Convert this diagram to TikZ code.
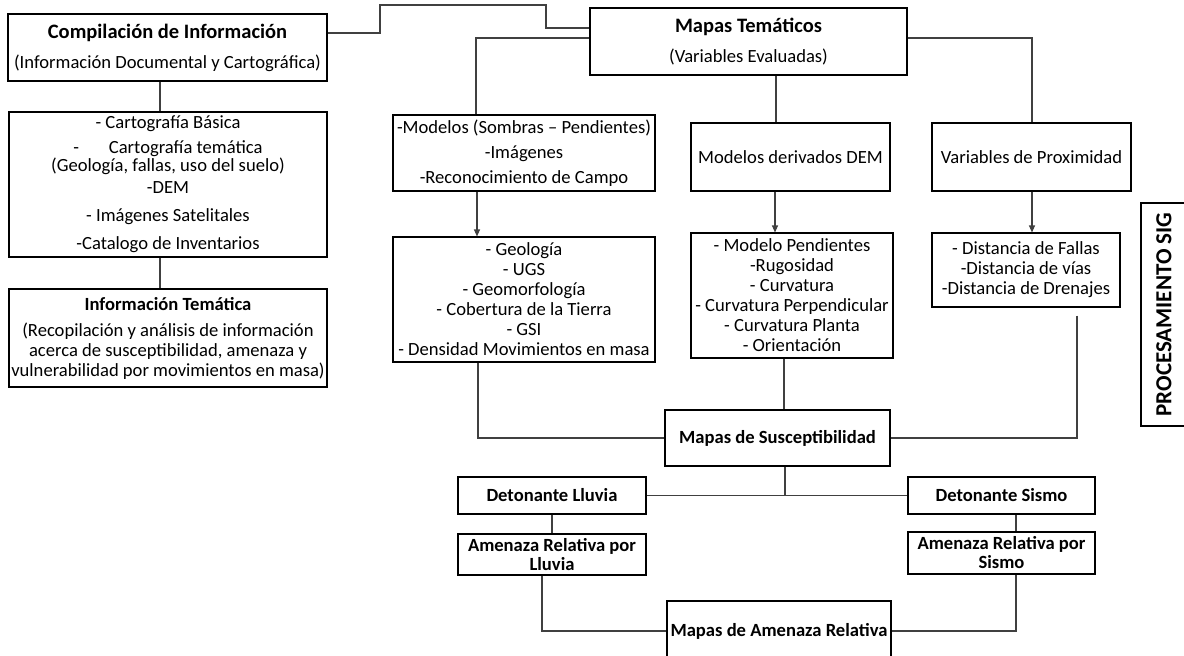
\documentclass[tikz,border=0pt]{standalone}
\usepackage{fontspec}
\setmainfont{Carlito}
\usetikzlibrary{arrows.meta}
\newcommand{\fs}{\fontsize{18.6}{20}\selectfont\lineskiplimit=-20pt\relax}
\newcommand{\fsb}{\fontsize{18.6}{19}\selectfont\lineskiplimit=-20pt\relax\bfseries}
\newcommand{\fst}{\fontsize{20.5}{20}\selectfont\lineskiplimit=-20pt\relax\bfseries}
\tikzset{
  box/.style={draw=black, line width=1.1pt, align=center, inner sep=0pt, font=\fs},
  bbox/.style={box, font=\fsb},
  conn/.style={draw=black!75, line width=1.1pt},
  arr/.style={conn, -{Triangle[length=7pt,width=6pt]}},
}
\begin{document}
\begin{tikzpicture}[x=1pt,y={(0pt,-1pt)}]
\useasboundingbox (0,0) rectangle (1184,656);
% left column
\node[box, minimum width=319pt, minimum height=67pt] (comp) at (167.5,47.5)
  {{\fst Compilación de Información}\\[10pt](Información Documental y Cartográfica)};
\node[box, minimum width=318pt, minimum height=145pt] (list1) at (168,184.5)
  {- Cartografía Básica\\[5pt]-\hspace{1.6em}Cartografía temática\\[-2pt](Geología, fallas, uso del suelo)\\[2pt]-DEM\\[8pt]- Imágenes Satelitales\\[8pt]-Catalogo de Inventarios};
\node[box, minimum width=318pt, minimum height=98pt] (tem) at (168,338)
  {{\fsb Información Temática}\\[6pt](Recopilación y análisis de información\\acerca de susceptibilidad, amenaza y\\vulnerabilidad por movimientos en masa)};
% top
\node[box, minimum width=317pt, minimum height=67pt] (mt) at (748.5,41.5)
  {{\fst Mapas Temáticos}\\[10pt](Variables Evaluadas)};
\node[box, minimum width=262pt, minimum height=76pt] (mod) at (524,153)
  {-Modelos (Sombras -- Pendientes)\\[5pt]-Imágenes\\[5pt]-Reconocimiento de Campo};
\node[box, minimum width=199pt, minimum height=68pt] (dem) at (790.5,157)
  {Modelos derivados DEM};
\node[box, minimum width=199pt, minimum height=68pt] (prox) at (1031.5,157)
  {Variables de Proximidad};
\node[box, minimum width=262pt, minimum height=125pt] (geo) at (524,299.5)
  {- Geología\\- UGS\\- Geomorfología\\- Cobertura de la Tierra\\- GSI\\- Densidad Movimientos en masa};
\node[box, minimum width=202pt, minimum height=125pt] (deml) at (792,295.5)
  {- Modelo Pendientes\\-Rugosidad\\- Curvatura\\- Curvatura Perpendicular\\- Curvatura Planta\\- Orientación};
\node[box, minimum width=188pt, minimum height=74pt] (dist) at (1026,270)
  {- Distancia de Fallas\\-Distancia de vías\\-Distancia de Drenajes};
\node[bbox, minimum width=225pt, minimum height=56pt] (sus) at (777.5,438)
  {Mapas de Susceptibilidad};
\node[bbox, minimum width=188pt, minimum height=37pt] (detl) at (552,495.5)
  {Detonante Lluvia};
\node[bbox, minimum width=188pt, minimum height=41pt] (aml) at (552,554.5)
  {Amenaza Relativa por\\Lluvia};
\node[bbox, minimum width=187pt, minimum height=37pt] (dets) at (1001.5,495.5)
  {Detonante Sismo};
\node[bbox, minimum width=187pt, minimum height=42pt] (ams) at (1001.5,553)
  {Amenaza Relativa por\\Sismo};
\node[bbox, minimum width=224pt, minimum height=60pt] (mar) at (779,631)
  {Mapas de Amenaza Relativa};
\node[box, rotate=90, minimum width=223pt, minimum height=46pt, font=\fontsize{23}{24}\selectfont\bfseries] (sig) at (1164,314.5)
  {PROCESAMIENTO SIG};
% connectors
\draw[conn] (comp.east |- 0,33) -- (380,33) -- (380,5) -- (546,5) -- (546,28) -- (mt.west |- 0,28);
\draw[conn] (comp.south -| 160,0) -- (list1.north -| 160,0);
\draw[conn] (list1.south -| 160,0) -- (tem.north -| 160,0);
\draw[conn] (mt.west |- 0,38) -- (476,38) -- (mod.north -| 476,0);
\draw[conn] (mt.south -| 776,0) -- (dem.north -| 776,0);
\draw[conn] (mt.east |- 0,38) -| (prox.north -| 1032,0);
\draw[arr] (mod.south -| 477,0) -- (geo.north -| 477,0);
\draw[arr] (dem.south -| 775,0) -- (deml.north -| 775,0);
\draw[arr] (prox.south -| 1032,0) -- (dist.north -| 1032,0);
\draw[conn] (geo.south -| 478,0) |- (sus.west);
\draw[conn] (deml.south -| 784,0) -- (sus.north -| 784,0);
\draw[conn, shorten <=8pt] (dist.south -| 1077,0) |- (sus.east);
\draw[conn] (detl.east) -- (dets.west);
\draw[conn] (sus.south -| 785,0) -- (detl.east -| 785,0);
\draw[conn] (detl.south) -- (aml.north);
\draw[conn] (dets.south -| 1016,0) -- (ams.north -| 1016,0);
\draw[conn] (aml.south -| 542,0) |- (mar.west);
\draw[conn] (ams.south -| 1016,0) |- (mar.east);
\end{tikzpicture}
\end{document}
